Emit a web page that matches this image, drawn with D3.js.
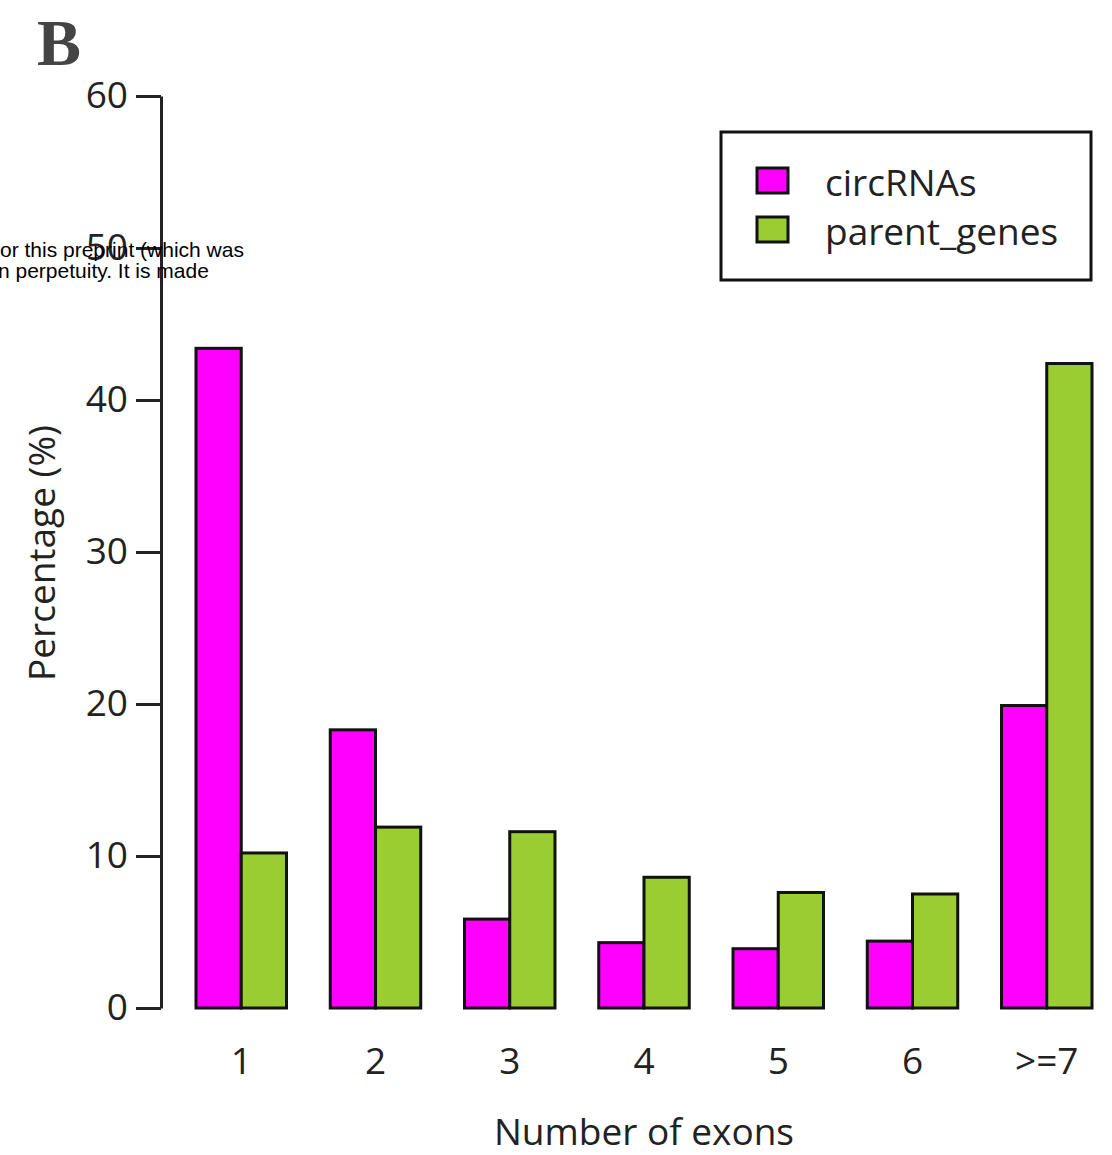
<!DOCTYPE html>
<html>
<head>
<meta charset="utf-8">
<script src="https://cdn.jsdelivr.net/npm/d3@7"></script>
<style>
  body { margin: 0; background: #fff; }
  svg text { font-family: "Open Sans", "Noto Sans", sans-serif; fill: #222; }
  svg text.notice { font-family: "Liberation Sans", Arial, sans-serif; fill: #000; font-size: 21px; }
  svg text.panel { font-family: "Liberation Serif", "DejaVu Serif", serif; fill: #444; font-weight: bold; font-size: 66px; }
</style>
</head>
<body>
<div id="chart"></div>
<script>
// Chart data
const categories = ["1", "2", "3", "4", "5", "6", ">=7"];
const seriesNames = ["circRNAs", "parent_genes"];
const circRNAs = [43.4, 18.3, 5.85, 4.3, 3.9, 4.4, 19.9];
const parentGenes = [10.2, 11.9, 11.6, 8.6, 7.6, 7.5, 42.4];
const yTicks = [0, 10, 20, 30, 40, 50, 60];

const colors = { circRNAs: "#ff00ff", parent_genes: "#9acd32" };

const width = 1112, height = 1155;

const svg = d3.select("#chart")
    .append("svg")
    .attr("width", width)
    .attr("height", height);

// Scales
const x = d3.scaleBand()
    .domain(categories)
    .range([196, 1092])
    .paddingInner(0.326)
    .paddingOuter(0);

const xSub = d3.scaleBand()
    .domain(seriesNames)
    .range([0, x.bandwidth()]);

const y = d3.scaleLinear()
    .domain([0, 60])
    .range([1008, 96]);

// Bars
const rows = categories.map((c, i) => ({
    cat: c,
    values: [
        { key: "circRNAs", value: circRNAs[i] },
        { key: "parent_genes", value: parentGenes[i] }
    ]
}));

svg.append("g")
    .selectAll("g")
    .data(rows)
    .join("g")
    .attr("transform", d => `translate(${x(d.cat)},0)`)
    .selectAll("rect")
    .data(d => d.values)
    .join("rect")
    .attr("x", d => xSub(d.key))
    .attr("y", d => y(d.value))
    .attr("width", xSub.bandwidth())
    .attr("height", d => y(0) - y(d.value))
    .attr("fill", d => colors[d.key])
    .attr("stroke", "#111")
    .attr("stroke-width", 3);

// Y axis
const yAxis = svg.append("g")
    .attr("transform", "translate(161,0)")
    .call(d3.axisLeft(y).tickValues(yTicks).tickSize(25).tickSizeOuter(0).tickPadding(8));
yAxis.select(".domain").attr("stroke", "#222").attr("stroke-width", 3);
yAxis.selectAll(".tick line").attr("stroke", "#222").attr("stroke-width", 3);
yAxis.selectAll(".tick text")
    .attr("font-size", 37)
    .attr("font-family", "Open Sans")
    .attr("fill", "#222");

// X axis labels (no axis line in original)
const xAxis = svg.append("g")
    .attr("transform", "translate(0,1008)")
    .call(d3.axisBottom(x).tickSize(0).tickPadding(40));
xAxis.select(".domain").remove();
xAxis.selectAll(".tick text")
    .attr("font-size", 37)
    .attr("font-family", "Open Sans")
    .attr("fill", "#222");

// Axis titles
svg.append("text")
    .attr("x", (x.range()[0] + x.range()[1]) / 2)
    .attr("y", 1145)
    .attr("text-anchor", "middle")
    .attr("font-size", 37)
    .text("Number of exons");

svg.append("text")
    .attr("transform", "translate(55,553) rotate(-90)")
    .attr("text-anchor", "middle")
    .attr("font-size", 37)
    .text("Percentage (%)");

// Legend
const legend = svg.append("g");
legend.append("rect")
    .attr("x", 721).attr("y", 132)
    .attr("width", 370).attr("height", 148)
    .attr("fill", "#fff")
    .attr("stroke", "#111")
    .attr("stroke-width", 3);

const legendItems = legend.selectAll("g.item")
    .data(seriesNames)
    .join("g")
    .attr("class", "item")
    .attr("transform", (d, i) => `translate(0,${168 + i * 49})`);
legendItems.append("rect")
    .attr("x", 757).attr("y", 0)
    .attr("width", 31).attr("height", 25)
    .attr("fill", d => colors[d])
    .attr("stroke", "#111")
    .attr("stroke-width", 3);
legendItems.append("text")
    .attr("x", 825).attr("y", 28)
    .attr("font-size", 37)
    .text(d => d);

// Panel letter
svg.append("text")
    .attr("class", "panel")
    .attr("x", 37).attr("y", 65)
    .text("B");

// Overlapping preprint notice fragment (part of the source page)
svg.append("text").attr("class", "notice").attr("x", 0).attr("y", 257).text("or this preprint (which was");
svg.append("text").attr("class", "notice").attr("x", -2).attr("y", 278).text("n perpetuity. It is made");
</script>
</body>
</html>
